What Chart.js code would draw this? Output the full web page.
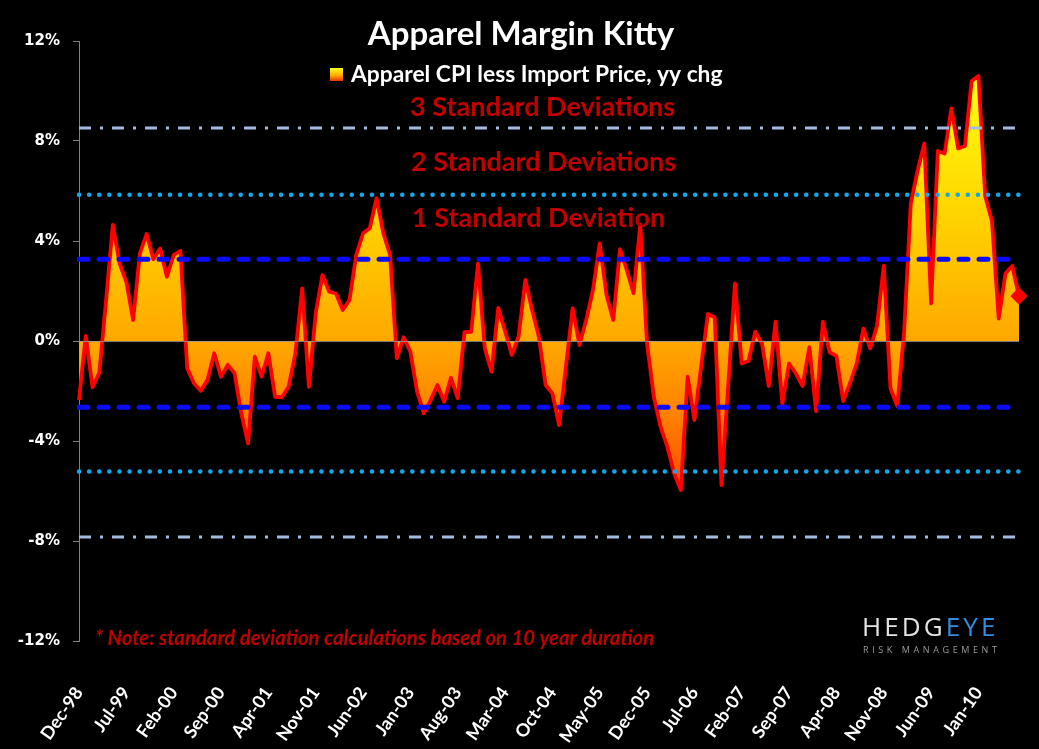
<!DOCTYPE html>
<html><head><meta charset="utf-8">
<script src="https://cdn.jsdelivr.net/npm/chart.js@4.4.1/dist/chart.umd.min.js"></script>
<style>html,body{margin:0;padding:0;background:#000;}#wrap{width:1039px;height:749px;position:relative;}</style>
</head><body><div id="wrap"><canvas id="c"></canvas></div>
<script>
// Monthly categories Dec-98 .. Jul-10
const monthNames = ['Jan','Feb','Mar','Apr','May','Jun','Jul','Aug','Sep','Oct','Nov','Dec'];
const categories = [];
for (let i = 0; i < 140; i++) {
  const m = (11 + i) % 12;
  const yr = (1998 + Math.floor((11 + i) / 12)) % 100;
  categories.push(monthNames[m] + '-' + String(yr).padStart(2, '0'));
}
const tickLabels = ['Dec-98','Jul-99','Feb-00','Sep-00','Apr-01','Nov-01','Jun-02','Jan-03','Aug-03','Mar-04',
  'Oct-04','May-05','Dec-05','Jul-06','Feb-07','Sep-07','Apr-08','Nov-08','Jun-09','Jan-10'];
// Apparel CPI less Import Price, yy chg (%)
const spreadValues = [
  -2.36,                                                              // Dec-98
  0.2, -1.85, -1.27, 1.6, 4.64, 3.1, 2.37, 0.84, 3.5, 4.28, 3.27, 3.7,   // 1999
  2.57, 3.44, 3.61, -1.09, -1.69, -1.99, -1.56, -0.49, -1.43, -0.96, -1.29, -2.89, // 2000
  -4.09, -0.63, -1.43, -0.49, -2.23, -2.25, -1.83, -0.49, 2.1, -1.83, 1.1, 2.64, // 2001
  1.97, 1.9, 1.24, 1.64, 3.44, 4.31, 4.51, 5.71, 4.31, 3.44, -0.69, 0.15, // 2002
  -0.43, -2.03, -2.89, -2.36, -1.76, -2.43, -1.47, -2.29, 0.35, 0.37, 3.1, -0.28, // 2003
  -1.23, 1.32, 0.4, -0.56, 0.17, 2.44, 1.24, 0.17, -1.76, -2.09, -3.36, -1.03, // 2004
  1.31, -0.16, 0.84, 2.04, 3.9, 1.84, 0.84, 3.67, 2.84, 1.91, 4.64, -0.1, // 2005
  -2.23, -3.43, -4.23, -5.29, -5.96, -1.43, -3.16, -1.0, 1.08, 0.95, -5.76, -1.8, // 2006
  2.3, -0.9, -0.8, 0.37, -0.1, -1.8, 0.77, -2.5, -0.9, -1.3, -1.8, -0.25, // 2007
  -2.8, 0.77, -0.45, -0.6, -2.4, -1.7, -0.9, 0.5, -0.3, 0.6, 3.0, -1.9, // 2008
  -2.6, 0.3, 5.5, 6.8, 7.9, 1.5, 7.6, 7.5, 9.3, 7.7, 7.8, 10.4,        // 2009
  10.6, 5.8, 4.8, 0.9, 2.7, 3.0, 1.8                                   // 2010
];
const sd1Levels = [3.27, -2.65];
const sd2Levels = [5.85, -5.22];
const sd3Levels = [8.52, -7.84];
const yMin = -12, yMax = 12, yStep = 4;

function levelData(v) {
  return [{x: categories[0], y: v}, {x: categories[categories.length - 1], y: v}];
}
function areaGradient(context) {
  const chart = context.chart;
  const {ctx, chartArea, scales} = chart;
  if (!chartArea) return 'rgba(255,170,0,1)';
  const y = scales.y;
  const g = ctx.createLinearGradient(0, y.getPixelForValue(10.6), 0, y.getPixelForValue(-6));
  g.addColorStop(0, '#FFFF10');
  g.addColorStop(0.33, '#FFD400');
  g.addColorStop(0.64, '#FFA800');
  g.addColorStop(0.82, '#FF8000');
  g.addColorStop(1, '#FF4A00');
  return g;
}
const lastIdx = spreadValues.length - 1;
const datasets = [
  {label: 'Apparel CPI less Import Price, yy chg', data: spreadValues, order: 5,
   borderColor: '#FF0000', borderWidth: 3.8, backgroundColor: areaGradient, fill: 'origin',
   tension: 0, borderJoinStyle: 'round',
   pointRadius: c => c.dataIndex === lastIdx ? 6 : 0,
   pointStyle: 'rectRot', pointBackgroundColor: '#FF0000', pointBorderColor: '#FF0000'}
];
sd1Levels.forEach(v => datasets.push({data: levelData(v), order: 1, borderColor: '#0A0AFF', borderWidth: 5,
  borderDash: [9, 11], borderCapStyle: 'round', pointRadius: 0, fill: false}));
sd2Levels.forEach(v => datasets.push({data: levelData(v), order: 1, borderColor: '#12A9EC', borderWidth: 4.5,
  borderDash: [0.1, 10], borderCapStyle: 'round', pointRadius: 0, fill: false}));
sd3Levels.forEach(v => datasets.push({data: levelData(v), order: 1, borderColor: '#A3BBDF', borderWidth: 3,
  borderDash: [12, 9, 3, 9], borderCapStyle: 'butt', pointRadius: 0, fill: false}));

const decor = {
  id: 'decor',
  afterDatasetsDraw(chart) {
    const {ctx, chartArea, scales} = chart;
    const y0 = scales.y.getPixelForValue(0);
    ctx.save();
    ctx.strokeStyle = 'rgba(150,150,150,0.8)';
    ctx.lineWidth = 1;
    ctx.beginPath(); ctx.moveTo(chartArea.left, Math.round(y0) + 0.5); ctx.lineTo(chartArea.right, Math.round(y0) + 0.5); ctx.stroke();
    ctx.restore();
  },
  afterDraw(chart) {
    const {ctx} = chart;
    ctx.save();
    ctx.textBaseline = 'middle';
    // title
    ctx.fillStyle = '#FFFFFF';
    ctx.font = 'bold 33px Lato';
    ctx.textAlign = 'center';
    ctx.fillText('Apparel Margin Kitty', 521, 34);
    // legend
    const lg = ctx.createLinearGradient(0, 68, 0, 82);
    lg.addColorStop(0, '#FFFF20'); lg.addColorStop(0.5, '#FFB000'); lg.addColorStop(1, '#E02000');
    ctx.fillStyle = lg;
    ctx.fillRect(330, 68, 13, 13);
    ctx.fillStyle = '#FFFFFF';
    ctx.font = 'bold 22.8px Lato';
    ctx.textAlign = 'left';
    ctx.fillText('Apparel CPI less Import Price, yy chg', 351, 75);
    // SD labels
    ctx.fillStyle = '#C00000';
    ctx.font = 'bold 27px Lato';
    ctx.fillText('3 Standard Deviations', 410, 107);
    ctx.fillText('2 Standard Deviations', 411, 162);
    ctx.fillText('1 Standard Deviation', 412, 218);
    // note
    ctx.font = 'italic bold 20.3px Lato';
    ctx.fillText('* Note: standard deviation calculations based on 10 year duration', 95, 638);
    // logo
    ctx.font = '26px "Open Sans"';
    let x = 862;
    for (const ch of 'HEDG') { ctx.fillStyle = '#E4E4E4'; ctx.fillText(ch, x, 629); x += ctx.measureText(ch).width + 3.1; }
    for (const ch of 'EYE') { ctx.fillStyle = '#2E8FE3'; ctx.fillText(ch, x, 629); x += ctx.measureText(ch).width + 3.1; }
    ctx.font = '9px "Open Sans"';
    ctx.fillStyle = '#9A9A9A';
    x = 863;
    for (const ch of 'RISK MANAGEMENT') { ctx.fillText(ch, x, 650); x += ctx.measureText(ch).width + 3.6; }
    ctx.restore();
  }
};

new Chart(document.getElementById('c'), {
  type: 'line',
  data: {labels: categories, datasets},
  plugins: [decor],
  options: {
    responsive: true, maintainAspectRatio: false, animation: false,
    layout: {padding: {left: 0, top: 41, right: 20, bottom: 0}},
    plugins: {legend: {display: false}, tooltip: {enabled: false}, title: {display: false}},
    scales: {
      x: {
        type: 'category', offset: false,
        grid: {display: false}, border: {display: false},
        ticks: {autoSkip: false, maxRotation: 55, minRotation: 55, padding: 34,
          color: '#FFFFFF', font: {family: 'Lato', weight: 'bold', size: 18},
          callback: (v, i) => tickLabels.includes(categories[i]) ? categories[i] : ''},
        afterFit: s => { s.height = 108; s.paddingRight = 0; s.paddingLeft = 0; }
      },
      y: {
        min: yMin, max: yMax,
        grid: {drawOnChartArea: false, drawTicks: true, tickLength: 6, color: '#808080'},
        border: {display: true, color: '#808080', width: 1},
        ticks: {stepSize: yStep, padding: 13, color: '#FFFFFF',
          font: {family: 'DejaVu Sans', weight: 'bold', size: 15},
          callback: v => v + '%'},
        afterFit: s => { s.width = 79; }
      }
    }
  }
});
</script></body></html>
